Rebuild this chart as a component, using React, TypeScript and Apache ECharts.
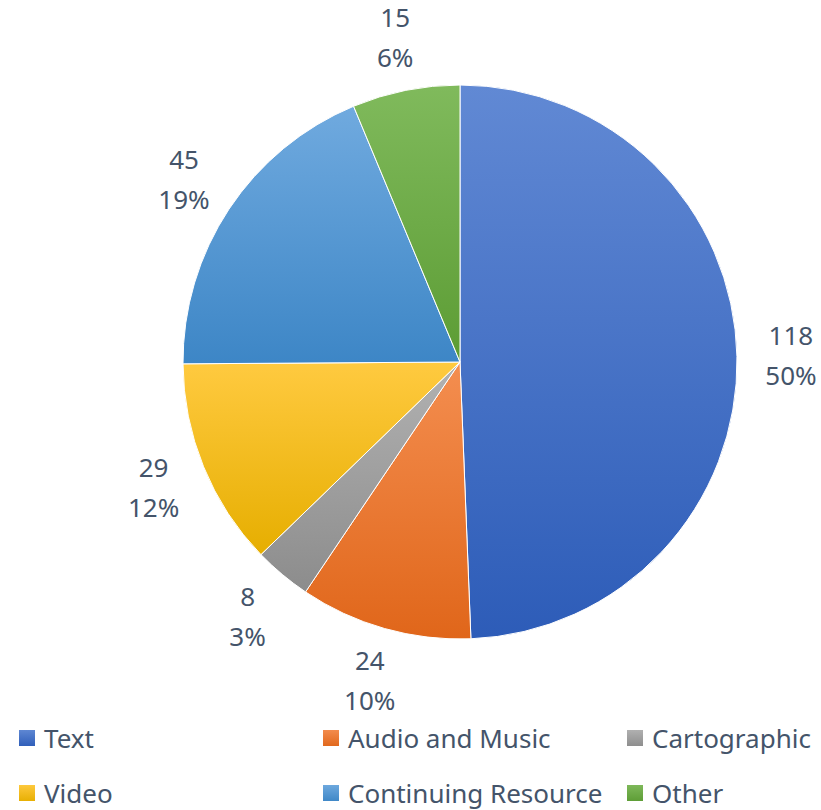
import React, { useEffect, useRef } from "react";
import * as echarts from "echarts";

const categories = ["Text", "Audio and Music", "Cartographic", "Video", "Continuing Resource", "Other"];
const values = [118, 24, 8, 29, 45, 15];
const lightColors = ["#6189D4", "#F48E50", "#B2B2B2", "#FFCA40", "#70AADF", "#80BA5C"];
const darkColors = ["#2D5CB8", "#E0661A", "#8C8C8C", "#E6AE00", "#3D86C6", "#5C9C34"];
const legendColumns = [
  ["Text", "Video"],
  ["Audio and Music", "Continuing Resource"],
  ["Cartographic", "Other"],
];

const TEXT_COLOR = "#44546A";
const FONT = "'Noto Sans', 'Open Sans', sans-serif";

export default function App() {
  const ref = useRef<HTMLDivElement>(null);
  useEffect(() => {
    document.body.style.margin = "0";
    if (!ref.current) return;
    const chart = echarts.init(ref.current, undefined, { renderer: "svg" });
    const grad = (i: number) =>
      new echarts.graphic.LinearGradient(0, 0, 0, 1, [
        { offset: 0, color: lightColors[i] },
        { offset: 1, color: darkColors[i] },
      ]);
    const mainData = categories.map((name, i) => ({
      name,
      value: values[i],
      itemStyle: { color: grad(i) },
    }));
    const labelData = categories.map((name, i) => ({ name, value: values[i] }));
    const legendLefts = [17, 321, 625];
    chart.setOption({
      animation: false,
      legend: legendColumns.map((col, i) => ({
        data: col,
        orient: "vertical",
        left: legendLefts[i],
        top: 724,
        height: 86,
        padding: 0,
        itemWidth: 18,
        itemHeight: 18,
        itemGap: 27,
        icon: "rect",
        selectedMode: false,
        textStyle: {
          color: TEXT_COLOR,
          fontSize: 26,
          fontFamily: FONT,
          lineHeight: 28,
          padding: [0, 0, 0, 3],
        },
      })),
      series: [
        {
          type: "pie",
          center: [460, 362],
          radius: [0, 277],
          startAngle: 90,
          clockwise: true,
          silent: true,
          label: { show: false },
          labelLine: { show: false },
          itemStyle: { borderColor: "#ffffff", borderWidth: 1 },
          data: mainData,
        },
        {
          type: "pie",
          center: [460, 362],
          radius: [301, 355],
          startAngle: 90,
          clockwise: true,
          silent: true,
          percentPrecision: 0,
          itemStyle: { color: "transparent", borderWidth: 0 },
          labelLine: { show: false },
          label: {
            show: true,
            position: "inside",
            formatter: "{c}\n{d}%",
            color: TEXT_COLOR,
            fontSize: 26,
            lineHeight: 40,
            fontFamily: FONT,
            textBorderWidth: 0,
          },
          data: labelData,
        },
      ],
    });
    return () => chart.dispose();
  }, []);
  return <div ref={ref} style={{ width: 821, height: 810 }} />;
}
